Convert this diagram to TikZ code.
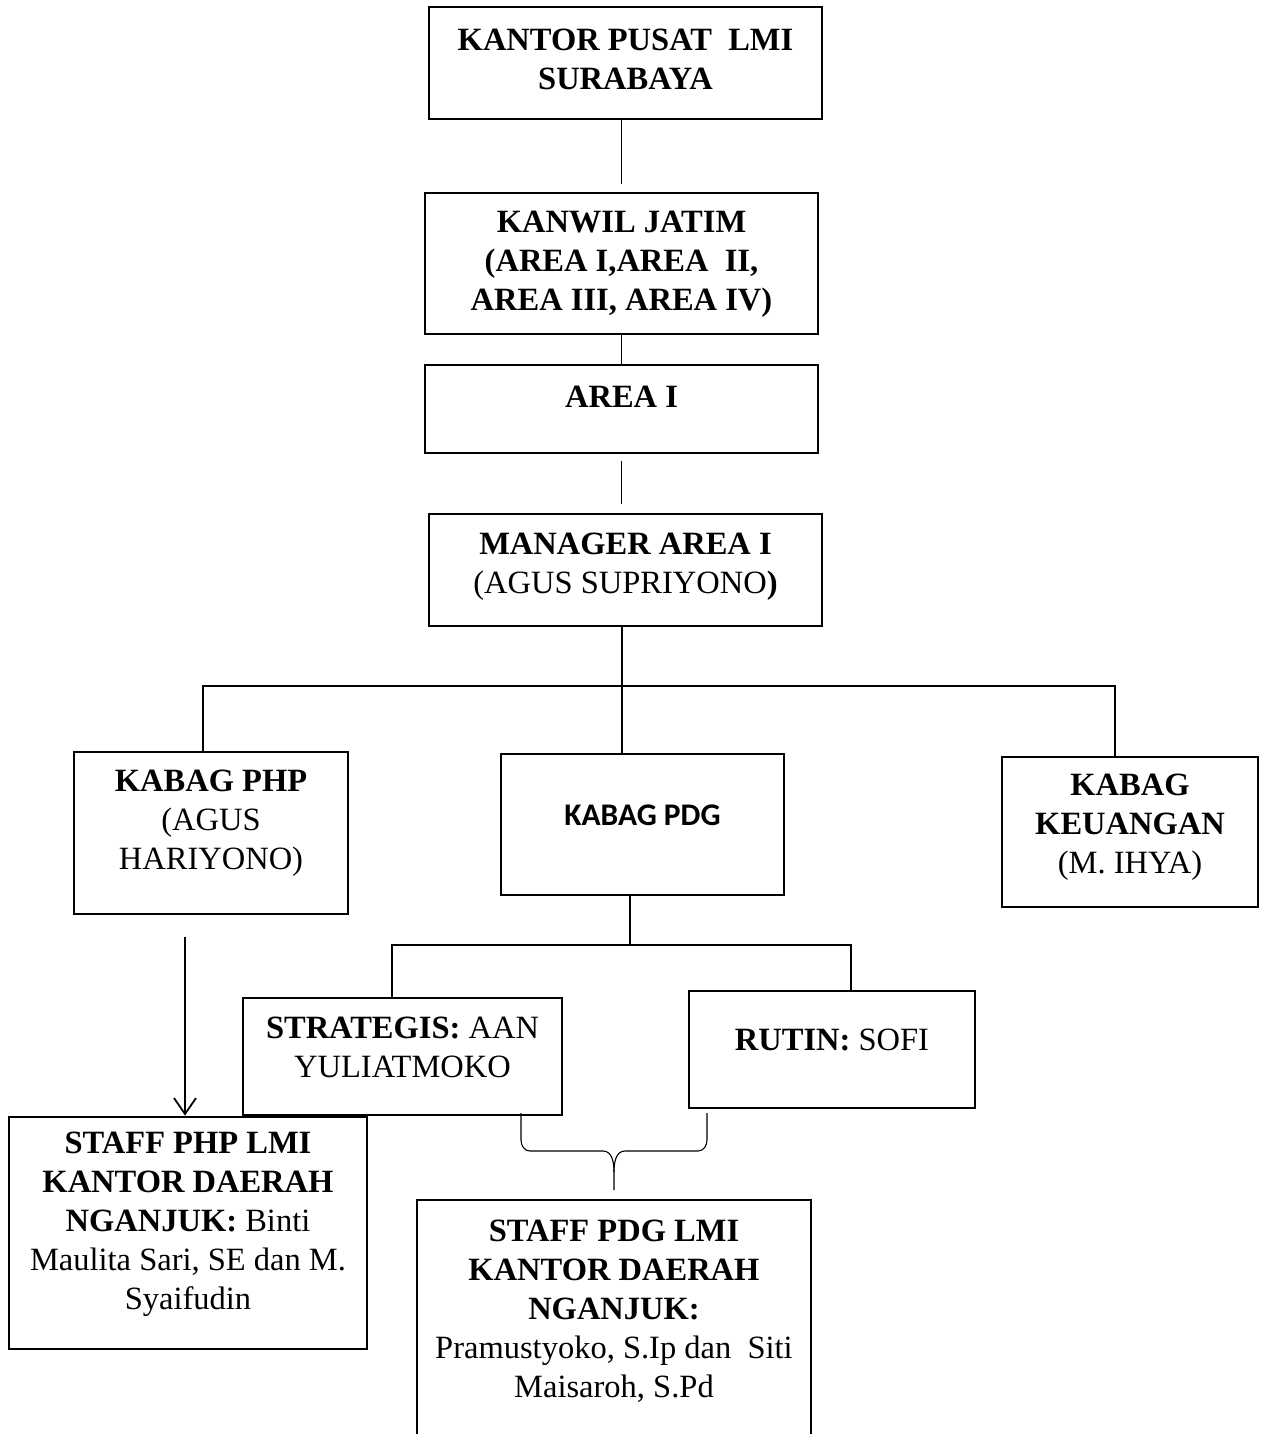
\documentclass[tikz,border=0pt]{standalone}
\usepackage{fontspec}
\setmainfont{Liberation Serif}
\newfontfamily\calibri{Carlito}
\usetikzlibrary{arrows.meta}

\begin{document}
\begin{tikzpicture}[x=1pt,y=-1pt]
  \tikzstyle{box}=[rectangle,draw=black,line width=2.8pt,inner sep=0pt]
  \tikzstyle{txt}=[align=center,inner sep=0pt,font=\fontsize{32.5}{39}\selectfont]
  \tikzstyle{edge}=[draw,line width=1.3pt]
  \clip (0,0) rectangle (1265,1434);
  \begin{scope}
    % boxes
    \node [box,minimum width=393,minimum height=112] (pusat) at (625.5,63) {};
    \node [box,minimum width=393,minimum height=141] (kanwil) at (621.5,263.5) {};
    \node [box,minimum width=393,minimum height=88] (area) at (621.5,409) {};
    \node [box,minimum width=393,minimum height=112] (manager) at (625.5,570) {};
    \node [box,minimum width=274,minimum height=162] (php) at (211,833) {};
    \node [box,minimum width=283,minimum height=141] (pdg) at (642.5,824.5) {};
    \node [box,minimum width=256,minimum height=150] (keu) at (1130,832) {};
    \node [box,minimum width=319,minimum height=117] (strat) at (402.5,1056.5) {};
    \node [box,minimum width=286,minimum height=117] (rutin) at (832,1049.5) {};
    \node [box,minimum width=358,minimum height=232] (sphp) at (188,1233) {};
    \node [box,minimum width=394,minimum height=250] (spdg) at (614,1325) {};
    % texts
    \node [txt] (pusat-t) at ([yshift=4]pusat.center) {\textbf{KANTOR PUSAT\ \ LMI}\\\textbf{SURABAYA}};
    \node [txt] (kanwil-t) at ([yshift=-1]kanwil.center) {\textbf{KANWIL JATIM}\\\textbf{(AREA I,AREA\ \ II,}\\\textbf{AREA III, AREA IV)}};
    \node [txt] (area-t) at ([yshift=12]area.center) {\textbf{AREA I}};
    \node [txt] (manager-t) at ([yshift=3.5]manager.center) {\textbf{MANAGER AREA I}\\(AGUS SUPRIYONO\textbf{)}};
    \node [txt] (php-t) at ([yshift=10]php.center) {\textbf{KABAG PHP}\\(AGUS\\HARIYONO)};
    \node [txt,font=\fontsize{31.5}{39}\calibri\bfseries] (pdg-t) at ([yshift=9.5]pdg.center) {KABAG PDG};
    \node [txt] (keu-t) at ([yshift=5]keu.center) {\textbf{KABAG}\\\textbf{KEUANGAN}\\(M. IHYA)};
    \node [txt] (strat-t) at ([yshift=9]strat.center) {\textbf{STRATEGIS:} AAN\\YULIATMOKO};
    \node [txt] (rutin-t) at ([yshift=9.5]rutin.center) {\textbf{RUTIN:} SOFI};
    \node [txt] (sphp-t) at ([yshift=8.5]sphp.center) {\textbf{STAFF PHP LMI}\\\textbf{KANTOR DAERAH}\\\textbf{NGANJUK:} Binti\\Maulita Sari, SE dan M.\\Syaifudin};
    \node [txt] (spdg-t) at (614,1311) {\textbf{STAFF PDG LMI}\\\textbf{KANTOR DAERAH}\\\textbf{NGANJUK:}\\Pramustyoko, S.Ip dan\ \ Siti\\Maisaroh, S.Pd};
    % connectors
    \path[edge,shorten >=8pt] (pusat.south -| kanwil.north) -- (kanwil.north);
    \path[edge] (kanwil) -- (area);
    \path[edge,shorten <=7pt,shorten >=9pt] (area.south) -- (manager.north -| area.south);
    \coordinate (bar) at (622,686);
    \coordinate (barL) at (203,686);
    \coordinate (barR) at (1115,686);
    \path[edge] (manager.south -| bar) -- (bar) -- (bar |- pdg.north);
    \path[edge] (barL |- php.north) -- (barL) -- (barR) -- (barR |- keu.north);
    \coordinate (fork) at (630,945);
    \coordinate (forkL) at (392,945);
    \coordinate (forkR) at (851,945);
    \path[edge] (pdg.south -| fork) -- (fork);
    \path[edge] (forkL |- strat.north) -- (forkL) -- (forkR) -- (forkR |- rutin.north);
    \coordinate (arr) at (185,937);
    \draw[line width=1.8pt,-{Straight Barb[length=16pt,width=22pt]}] (arr) -- (arr |- sphp.north);
    % brace
    \coordinate (bl) at (521,1113);
    \coordinate (br) at (707,1113);
    \coordinate (bt) at (614,1190);
    \draw[line width=1.1pt] (bl) -- ++(0,27) to[out=-90,in=180] ++(9,11) -- (603,1151)
      to[out=0,in=90] (614,1172) -- (bt);
    \draw[line width=1.1pt] (br) -- ++(0,27) to[out=-90,in=0] ++(-9,11) -- (625,1151)
      to[out=180,in=90] (614,1172);
  \end{scope}
\end{tikzpicture}
\end{document}
